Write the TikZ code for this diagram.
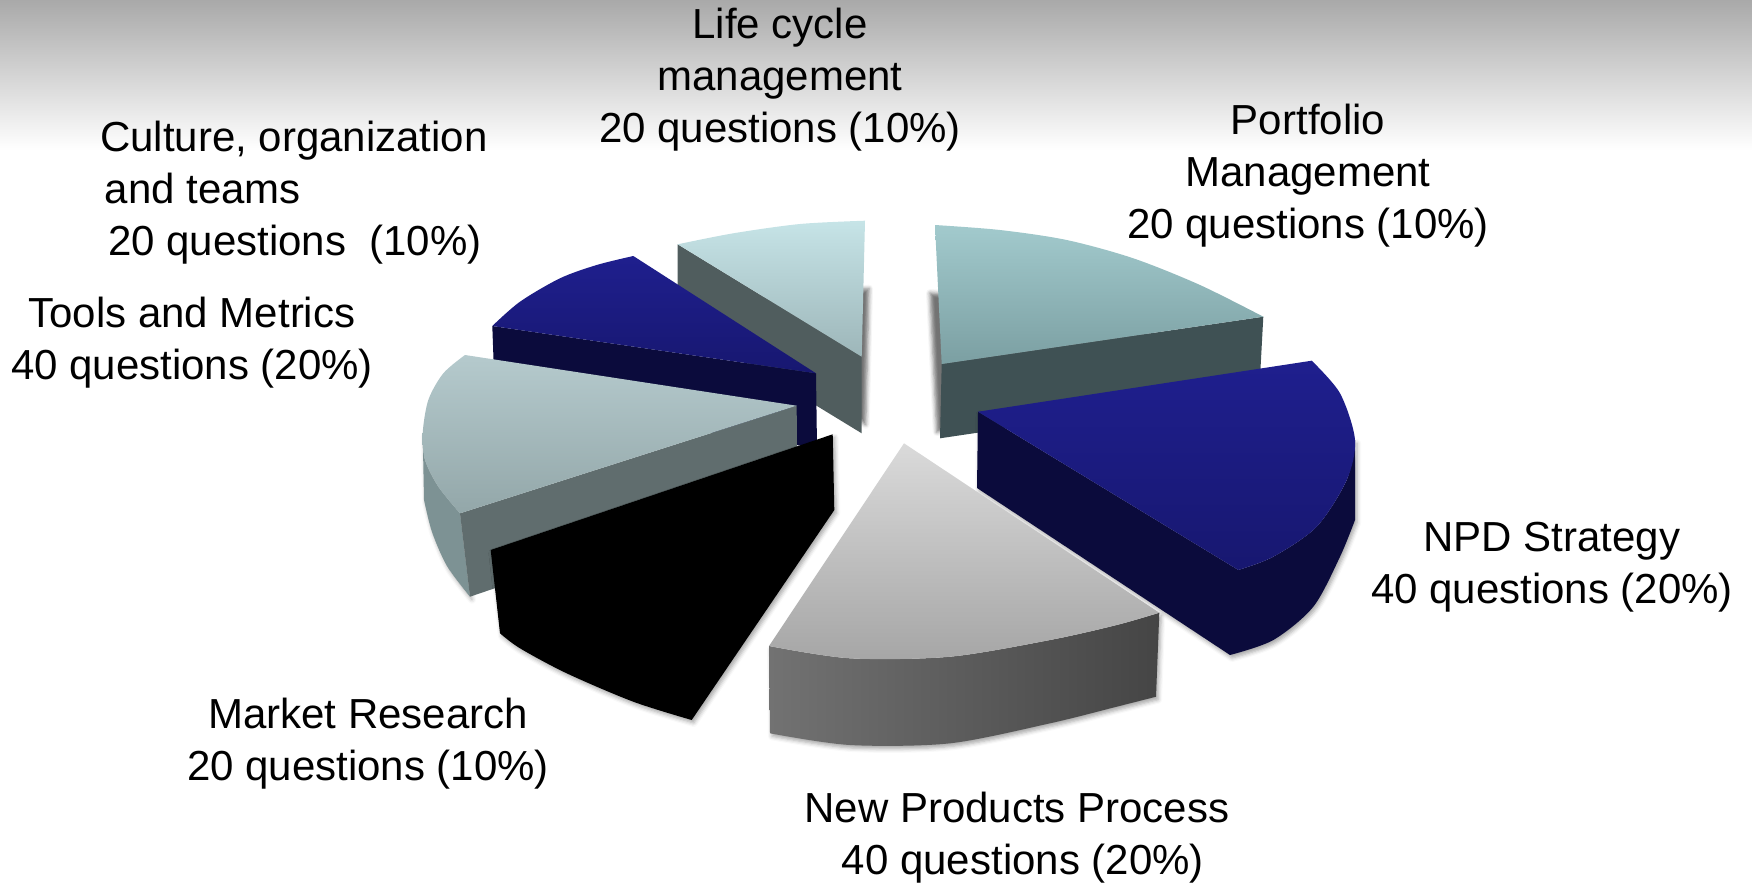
\documentclass[tikz,border=0pt]{standalone}
\usepackage{fontspec}
\setmainfont{Liberation Sans}
\usetikzlibrary{shadows.blur}

\definecolor{bgtop}{RGB}{169,169,169}
\definecolor{lifetop}{RGB}{198,228,231}
\definecolor{lifebot}{RGB}{157,182,185}
\definecolor{lifeside}{RGB}{80,93,94}
\definecolor{porttop}{RGB}{162,202,205}
\definecolor{portbot}{RGB}{123,159,162}
\definecolor{portside}{RGB}{63,81,84}
\definecolor{navytop}{RGB}{31,31,142}
\definecolor{navybot}{RGB}{23,23,112}
\definecolor{navyside}{RGB}{11,11,60}
\definecolor{toolstop}{RGB}{181,202,205}
\definecolor{toolsbot}{RGB}{147,167,169}
\definecolor{toolsside}{RGB}{96,109,110}
\definecolor{toolsrim}{RGB}{125,146,148}
\definecolor{npptop}{RGB}{218,218,218}
\definecolor{nppbot}{RGB}{166,166,166}
\definecolor{nppleft}{RGB}{114,114,114}
\definecolor{nppright}{RGB}{69,69,69}

\begin{document}
\begin{tikzpicture}[
  x=1pt, y=-1pt,
  label text/.style={
    font=\fontsize{42}{52}\selectfont, align=center, inner sep=0pt
  },
  top face/.style 2 args={
    top color=#1, bottom color=#2
  },
  soft shadow/.style={
    blur shadow={shadow xshift=2pt, shadow yshift=-3pt,
      shadow blur radius=4pt, shadow opacity=35}
  },
  floor shadow/.style={
    blur shadow={shadow xshift=#1, shadow yshift=-68pt,
      shadow blur radius=4pt, shadow opacity=55}
  }
  ]
  \useasboundingbox (0,0) rectangle (1752,883);
  \shade[top color=bgtop, bottom color=white] (0,0) rectangle (1752,150);

  % life cycle
  \path[floor shadow=4pt] plot[smooth] coordinates {(677.7,244.3) (733.3,233.3) (800,224) (865,220.7)}
    -- (861.7,356.7) -- cycle;
  \fill[lifeside] (677.7,244.3) -- (861.7,356.7) -- (861.7,433.3) -- (677.7,321) -- cycle;
  \shade[top face={lifetop}{lifebot}] plot[smooth] coordinates {(677.7,244.3) (733.3,233.3) (800,224) (865,220.7)}
    -- (861.7,356.7) -- cycle;

  % portfolio
  \path[floor shadow=-5pt] plot[smooth] coordinates {(935,225) (1000,230) (1066.7,240) (1133.3,258.3) (1200,285) (1263.3,316.7)}
    -- (941.7,364) -- cycle;
  \fill[portside] (941.7,364) -- (1263.3,316.7) -- (1259.3,390.7) -- (940,438.3) -- cycle;
  \shade[top face={porttop}{portbot}]
    plot[smooth] coordinates {(935,225) (1000,230) (1066.7,240) (1133.3,258.3) (1200,285) (1263.3,316.7)}
    -- (941.7,364) -- cycle;

  % culture
  \fill[navyside] (492.3,326) -- (816,373.3) -- (817,448) -- (495,401) -- cycle;
  \shade[top face={navytop}{navybot}] plot[smooth] coordinates {(492.3,326) (520,301.7) (560,278.3) (596.7,265) (633.3,256)}
    -- (816,373.3) -- cycle;

  % tools
  \fill[toolsrim, soft shadow] plot[smooth] coordinates {(422.7,433.3) (425,460) (438.3,486.7) (460,513.3)}
    -- (470,596.7) -- plot[smooth] coordinates {(470,596.7) (447,566) (432,532) (424,500)} -- cycle;
  \fill[toolsside] (460,513.3) -- (796.7,405.7) -- (797,485) -- (470,596.7) -- cycle;
  \shade[top face={toolstop}{toolsbot}] (465,355) -- (796.7,405.7)
    -- plot[smooth] coordinates {(460,513.3) (438.3,486.7) (425,460) (422.7,433.3) (428.3,400) (443.3,373.3) (465,355)} -- cycle;

  % npd strategy
  \fill[navyside, soft shadow] (978,411.7)
    -- plot[smooth] coordinates {(1238.3,570) (1273.3,556.7) (1316.7,526.7) (1346.7,480) (1355,440)}
    -- plot[smooth] coordinates {(1355,520) (1340,556.7) (1313.3,606.7) (1273.3,640) (1230,655)}
    -- (977,488) -- cycle;
  \shade[top face={navytop}{navybot}] (978,411.7)
    -- plot[smooth] coordinates {(1311.7,360.7) (1340,393.3) (1355,440) (1346.7,480) (1316.7,526.7) (1273.3,556.7) (1238.3,570)} -- cycle;

  % market research
  \fill[black, soft shadow] (490.7,550) -- (832.7,434.3) -- (834.3,510)
    -- plot[smooth] coordinates {(691.7,720) (633.3,701.7) (566.7,673.3) (520,648.3) (500,633.3)} -- cycle;

  % new products process
  \shade[left color=nppleft, right color=nppright, soft shadow] plot[smooth] coordinates {(769,646) (850,658.3) (950,656.7) (1050,640) (1116.7,625) (1159.3,612.7)}
    -- (1156,696.7) -- plot[smooth] coordinates {(1156,696.7) (1116.7,706.7) (1050,723.3) (950,743.3) (850,745) (770,733.3)} -- cycle;
  \shade[top face={npptop}{nppbot}] (904,443.3)
    -- plot[smooth] coordinates {(769,646) (850,658.3) (950,656.7) (1050,640) (1116.7,625) (1159.3,612.7)} -- cycle;

  % labels
  \node[label text] (life) at (780,80) {Life cycle\\management\\20 questions (10\%)};
  \node[label text] (port) at (1308,176) {Portfolio\\Management\\20 questions (10\%)};
  \node[label text, anchor=west, align=left] (cult) at (100,193) {Culture, organization\\\hspace*{4.5pt}and teams\\\hspace*{8pt}20 questions\ \ (10\%)};
  \node[label text] (tools) at (192,343) {Tools and Metrics\\40 questions (20\%)};
  \node[label text] (npd) at (1552,567) {NPD Strategy\\40 questions (20\%)};
  \node[label text] (market) at (368,744) {Market Research\\20 questions (10\%)};
  \node[label text] (npp) at (1017,838) {New Products Process\\\hspace*{.28em}40 questions (20\%)};
\end{tikzpicture}
\end{document}
